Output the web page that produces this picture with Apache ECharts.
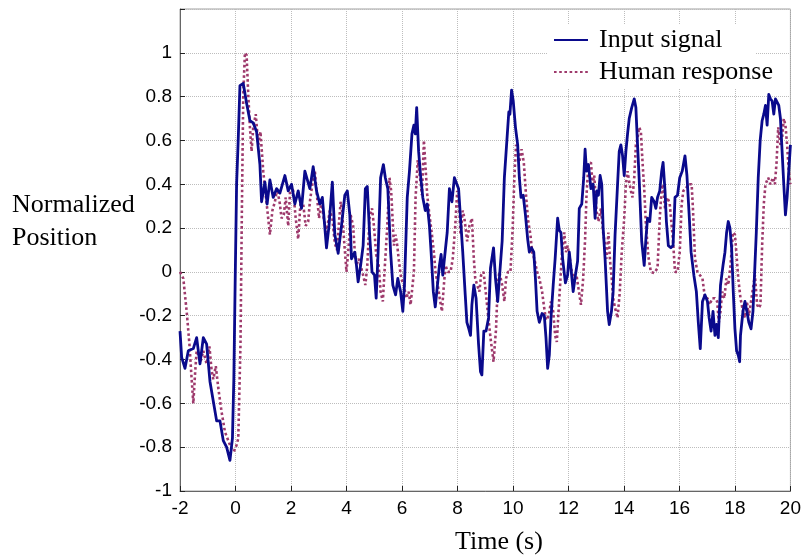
<!DOCTYPE html>
<html>
<head>
<meta charset="utf-8">
<script src="https://cdn.jsdelivr.net/npm/echarts@6/dist/echarts.min.js"></script>
<style>html,body{margin:0;padding:0;background:#fff;}#c{width:804px;height:558px;}</style>
</head>
<body>
<div id="c"></div>
<script>
const inputT = [-2.00,-1.94,-1.82,-1.70,-1.52,-1.40,-1.28,-1.16,-1.04,-0.92,-0.80,-0.68,-0.56,-0.44,-0.32,-0.20,-0.11,-0.06,-0.01,0.04,0.10,0.16,0.28,0.40,0.52,0.64,0.76,0.88,0.94,1.06,1.14,1.24,1.36,1.48,1.60,1.78,1.90,2.02,2.14,2.26,2.38,2.50,2.68,2.80,2.92,3.04,3.13,3.28,3.37,3.49,3.58,3.70,3.82,3.94,4.03,4.12,4.18,4.30,4.36,4.42,4.51,4.60,4.68,4.75,4.83,4.92,5.01,5.07,5.14,5.23,5.33,5.40,5.49,5.59,5.67,5.77,5.85,5.95,6.03,6.09,6.19,6.27,6.36,6.43,6.48,6.53,6.60,6.67,6.75,6.84,6.91,6.99,7.05,7.13,7.20,7.29,7.35,7.41,7.47,7.53,7.63,7.71,7.80,7.89,7.95,8.04,8.11,8.19,8.28,8.34,8.41,8.47,8.52,8.59,8.67,8.76,8.83,8.88,8.95,9.03,9.12,9.19,9.30,9.37,9.45,9.51,9.61,9.69,9.77,9.85,9.89,9.95,10.01,10.09,10.17,10.23,10.29,10.37,10.45,10.53,10.59,10.67,10.75,10.81,10.87,10.95,11.05,11.13,11.19,11.25,11.31,11.37,11.45,11.52,11.61,11.67,11.73,11.79,11.89,11.97,12.03,12.09,12.17,12.25,12.33,12.39,12.48,12.55,12.60,12.65,12.72,12.81,12.89,12.96,13.02,13.08,13.14,13.20,13.25,13.32,13.41,13.47,13.55,13.61,13.68,13.77,13.83,13.89,13.95,14.01,14.07,14.13,14.19,14.28,14.37,14.43,14.49,14.55,14.64,14.73,14.79,14.85,14.93,15.00,15.09,15.15,15.21,15.29,15.36,15.41,15.48,15.53,15.60,15.69,15.77,15.84,15.93,16.01,16.10,16.20,16.27,16.35,16.42,16.52,16.61,16.68,16.75,16.83,16.92,17.01,17.07,17.14,17.21,17.28,17.34,17.40,17.48,17.57,17.64,17.70,17.76,17.82,17.88,17.94,18.00,18.06,18.12,18.17,18.20,18.29,18.36,18.43,18.50,18.58,18.65,18.72,18.77,18.84,18.91,18.98,19.04,19.10,19.16,19.22,19.28,19.34,19.40,19.46,19.52,19.58,19.64,19.70,19.76,19.82,19.88,19.94,20.00];
const inputV = [-0.27,-0.39,-0.44,-0.36,-0.35,-0.30,-0.42,-0.30,-0.33,-0.50,-0.59,-0.68,-0.68,-0.77,-0.80,-0.86,-0.76,-0.49,-0.03,0.40,0.61,0.85,0.86,0.77,0.69,0.68,0.64,0.49,0.32,0.41,0.31,0.42,0.34,0.38,0.36,0.44,0.37,0.40,0.31,0.37,0.29,0.46,0.38,0.48,0.37,0.31,0.34,0.11,0.21,0.41,0.17,0.085,0.21,0.35,0.37,0.26,0.06,0.09,0.03,-0.045,0.03,0.12,0.38,0.39,0.18,0.0,-0.015,-0.12,0.09,0.43,0.49,0.43,0.38,0.09,-0.06,-0.105,-0.03,-0.09,-0.18,-0.06,0.34,0.46,0.63,0.67,0.63,0.75,0.55,0.44,0.34,0.28,0.31,0.21,0.09,-0.09,-0.16,-0.045,0.03,0.08,-0.015,0.06,0.18,0.38,0.32,0.43,0.435,0.38,0.245,0.09,-0.105,-0.23,-0.26,-0.29,-0.15,-0.06,-0.12,-0.33,-0.455,-0.47,-0.27,-0.27,-0.21,0.017,0.11,-0.03,-0.135,-0.03,0.14,0.43,0.58,0.73,0.72,0.83,0.78,0.66,0.58,0.43,0.34,0.35,0.26,0.15,0.09,0.11,0.09,-0.03,-0.18,-0.23,-0.19,-0.20,-0.30,-0.44,-0.38,-0.21,-0.06,0.06,0.245,0.19,0.18,0.06,-0.05,-0.015,0.09,0.017,-0.09,-0.015,0.05,0.29,0.31,0.43,0.56,0.46,0.49,0.38,0.40,0.245,0.37,0.35,0.44,0.40,0.20,0.06,-0.18,-0.24,-0.18,-0.09,0.17,0.40,0.55,0.58,0.53,0.44,0.55,0.63,0.70,0.75,0.79,0.75,0.58,0.42,0.14,0.03,0.15,0.245,0.23,0.34,0.32,0.29,0.34,0.37,0.46,0.50,0.37,0.23,0.12,0.11,0.12,0.34,0.35,0.43,0.46,0.53,0.44,0.26,0.09,-0.015,-0.09,-0.23,-0.35,-0.135,-0.105,-0.135,-0.21,-0.27,-0.18,-0.29,-0.24,-0.30,-0.06,0.03,0.09,0.18,0.23,0.20,0.11,-0.09,-0.26,-0.36,-0.38,-0.41,-0.29,-0.18,-0.135,-0.18,-0.23,-0.26,-0.18,0.03,0.18,0.43,0.60,0.69,0.72,0.76,0.67,0.81,0.79,0.78,0.72,0.79,0.79,0.76,0.70,0.55,0.40,0.26,0.34,0.46,0.58];
const humanT = [-2.00,-1.88,-1.76,-1.66,-1.58,-1.52,-1.46,-1.40,-1.34,-1.26,-1.16,-1.04,-0.94,-0.86,-0.80,-0.71,-0.62,-0.50,-0.38,-0.26,-0.14,-0.06,0.04,0.10,0.18,0.23,0.28,0.34,0.40,0.46,0.52,0.58,0.64,0.73,0.82,0.90,1.00,1.09,1.15,1.24,1.33,1.42,1.50,1.60,1.66,1.74,1.81,1.90,1.98,2.08,2.17,2.26,2.34,2.44,2.53,2.62,2.68,2.77,2.86,2.92,3.01,3.10,3.18,3.28,3.40,3.49,3.58,3.66,3.72,3.79,3.84,3.91,4.00,4.08,4.15,4.24,4.30,4.36,4.44,4.51,4.60,4.68,4.75,4.83,4.92,4.99,5.07,5.16,5.23,5.31,5.37,5.47,5.55,5.61,5.71,5.77,5.83,5.89,5.97,6.07,6.15,6.24,6.31,6.36,6.43,6.49,6.57,6.65,6.72,6.79,6.84,6.91,6.99,7.08,7.15,7.21,7.29,7.36,7.44,7.51,7.57,7.65,7.75,7.83,7.92,7.99,8.05,8.11,8.19,8.25,8.35,8.43,8.52,8.59,8.64,8.71,8.79,8.85,8.94,9.03,9.09,9.19,9.30,9.39,9.45,9.51,9.61,9.69,9.75,9.82,9.91,9.99,10.05,10.11,10.17,10.23,10.31,10.39,10.47,10.55,10.63,10.69,10.77,10.87,10.95,11.05,11.11,11.19,11.29,11.37,11.45,11.52,11.58,11.67,11.77,11.85,11.91,11.97,12.05,12.12,12.21,12.29,12.36,12.45,12.53,12.60,12.65,12.72,12.81,12.87,12.93,13.01,13.08,13.17,13.25,13.32,13.37,13.44,13.50,13.56,13.61,13.68,13.77,13.85,13.92,14.01,14.07,14.13,14.19,14.25,14.31,14.37,14.43,14.49,14.55,14.61,14.67,14.73,14.79,14.88,14.97,15.09,15.21,15.29,15.36,15.41,15.48,15.57,15.65,15.72,15.77,15.84,15.93,16.01,16.08,16.14,16.23,16.32,16.44,16.49,16.56,16.65,16.74,16.83,16.92,17.01,17.09,17.18,17.28,17.36,17.42,17.48,17.54,17.62,17.69,17.76,17.84,17.93,18.00,18.05,18.12,18.20,18.29,18.36,18.43,18.50,18.58,18.65,18.72,18.80,18.86,18.92,18.98,19.04,19.10,19.20,19.28,19.37,19.44,19.50,19.56,19.64,19.70,19.76,19.82,19.88,19.94,20.00];
const humanV = [0.0,-0.03,-0.18,-0.33,-0.49,-0.60,-0.47,-0.36,-0.36,-0.41,-0.36,-0.42,-0.34,-0.45,-0.49,-0.43,-0.53,-0.64,-0.73,-0.77,-0.81,-0.82,-0.79,-0.76,-0.33,0.28,0.81,1.0,0.99,0.81,0.66,0.55,0.66,0.72,0.58,0.64,0.46,0.35,0.28,0.17,0.28,0.32,0.38,0.31,0.245,0.26,0.34,0.21,0.40,0.37,0.245,0.15,0.31,0.31,0.21,0.23,0.32,0.40,0.46,0.37,0.245,0.32,0.245,0.18,0.28,0.245,0.13,0.10,0.21,0.32,0.28,0.15,0.0,0.12,0.26,0.21,0.09,0.03,0.06,0.03,-0.015,-0.06,0.03,0.245,0.29,0.21,0.08,0.03,-0.09,-0.135,0.0,0.21,0.43,0.37,0.12,0.17,0.12,0.05,-0.03,-0.06,-0.12,-0.09,-0.15,-0.15,0.0,0.34,0.51,0.43,0.35,0.60,0.60,0.35,0.26,0.17,0.09,0.0,-0.06,-0.12,-0.18,-0.06,0.03,0.0,0.0,0.06,0.21,0.37,0.32,0.17,0.28,0.245,0.14,0.21,0.245,0.06,-0.03,-0.06,-0.09,-0.015,0.0,-0.105,-0.18,-0.30,-0.41,-0.26,-0.06,0.0,-0.06,-0.135,-0.03,0.0,0.0,0.20,0.43,0.58,0.56,0.50,0.56,0.50,0.35,0.23,0.17,0.09,0.06,0.0,-0.03,-0.09,-0.15,-0.22,-0.20,-0.135,-0.18,-0.29,-0.32,-0.12,0.09,0.18,0.09,0.12,0.06,0.0,-0.03,-0.015,-0.075,-0.15,-0.03,0.15,0.35,0.49,0.50,0.40,0.44,0.28,0.23,0.29,0.18,0.12,0.06,0.18,0.05,-0.03,-0.12,-0.165,-0.21,-0.09,0.09,0.245,0.40,0.46,0.41,0.37,0.34,0.43,0.58,0.61,0.66,0.64,0.50,0.38,0.22,0.07,0.0,-0.005,0.017,0.245,0.38,0.40,0.29,0.34,0.31,0.21,0.14,0.0,0.0,0.09,0.31,0.37,0.38,0.40,0.40,0.28,0.06,0.0,-0.015,-0.03,-0.12,-0.12,-0.15,-0.12,-0.12,-0.135,-0.23,-0.18,-0.09,-0.12,-0.03,-0.06,0.03,0.18,0.17,0.09,-0.03,-0.12,-0.18,-0.21,-0.135,-0.20,-0.135,-0.075,-0.015,-0.15,-0.165,-0.15,0.12,0.31,0.40,0.43,0.40,0.43,0.40,0.50,0.66,0.58,0.61,0.70,0.67,0.58,0.46,0.40];
const seriesNames = ['Input signal', 'Human response'];
const xTitle = 'Time (s)';
const yTitleLines = ['Normalized', 'Position'];

const inputData = inputT.map((t, i) => [t, inputV[i]]);
const humanData = humanT.map((t, i) => [t, humanV[i]]);

const chart = echarts.init(document.getElementById('c'), null, {renderer: 'canvas'});
const serif = 'Liberation Serif, Times New Roman, serif';
const sans = 'Liberation Sans, Arial, Helvetica, sans-serif';
chart.setOption({
  animation: false,
  backgroundColor: '#fff',
  grid: {left: 180, right: 12, top: 9, bottom: 67, show: true, borderColor: '#a0a0a0', borderWidth: 1, backgroundColor: 'transparent'},
  xAxis: {
    type: 'value', min: -2, max: 20, interval: 2,
    axisLine: {show: true, onZero: false, lineStyle: {color: '#666', width: 1}},
    axisTick: {show: true, inside: true, length: 5, lineStyle: {color: '#222'}},
    axisLabel: {color: '#000', fontFamily: sans, fontSize: 19, margin: 8},
    splitLine: {show: true, lineStyle: {color: '#bdbdbd', type: [1, 1], width: 1}}
  },
  yAxis: {
    type: 'value', min: -1, max: 1.2, interval: 0.2,
    axisLine: {show: true, onZero: false, lineStyle: {color: '#666', width: 1}},
    axisTick: {show: true, inside: true, length: 5, lineStyle: {color: '#222'}},
    axisLabel: {color: '#000', fontFamily: sans, fontSize: 19, margin: 8,
      formatter: v => (Math.abs(v - 1.2) < 1e-6 ? '' : String(+v.toFixed(1)))},
    splitLine: {show: true, lineStyle: {color: '#bdbdbd', type: [1, 1], width: 1}}
  },
  legend: {
    orient: 'vertical', left: 548, top: 22, itemWidth: 34, itemHeight: 14, itemGap: 6,
    data: seriesNames,
    itemStyle: {opacity: 0, borderWidth: 0},
    textStyle: {fontFamily: serif, fontSize: 26, color: '#000', padding: [0, 0, 0, 6]},
    z: 10
  },
  graphic: [
    {type: 'rect', shape: {x: 547, y: 25, width: 208, height: 63}, style: {fill: '#fff'}, z: 1, silent: true},
    {type: 'text', left: 455, top: 529, style: {text: xTitle, font: '26px ' + serif, fill: '#000'}},
    {type: 'text', left: 12, top: 192, style: {text: yTitleLines[0], font: '26px ' + serif, fill: '#000'}},
    {type: 'text', left: 12, top: 225, style: {text: yTitleLines[1], font: '26px ' + serif, fill: '#000'}}
  ],
  series: [
    {name: seriesNames[0], type: 'line', data: inputData, symbol: 'none', showSymbol: false, z: 3,
      lineStyle: {color: '#0a0a8c', width: 2.8, join: 'round'}, itemStyle: {color: '#0a0a8c'}},
    {name: seriesNames[1], type: 'line', data: humanData, symbol: 'none', showSymbol: false, z: 2,
      lineStyle: {color: '#9e3a6c', width: 2.6, type: [2.6, 2.6], cap: 'butt'}, itemStyle: {color: '#9e3a6c'}}
  ]
});
</script>
</body>
</html>
